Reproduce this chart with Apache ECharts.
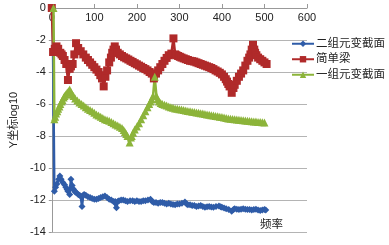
<!DOCTYPE html>
<html>
<head>
<meta charset="utf-8">
<script src="https://cdn.jsdelivr.net/npm/echarts@6/dist/echarts.min.js"></script>
<style>
  html, body { margin: 0; padding: 0; background: #fff; }
  #chart { width: 389px; height: 245px; }
</style>
</head>
<body>
<div id="chart"></div>
<script>
// 二组元变截面
var blueX = [2, 6, 9, 12, 16, 19, 22, 26, 30, 33, 36, 38, 42, 45, 48, 50, 53, 55, 58, 62, 65, 68, 71, 74, 76, 80, 85, 90, 95, 100, 105, 110, 115, 120, 125, 130, 135, 140, 145, 149, 152, 155, 158, 163, 168, 173, 178, 184, 190, 195, 200, 205, 210, 215, 220, 226, 232, 236, 240, 245, 250, 255, 260, 265, 270, 275, 280, 285, 290, 295, 300, 306, 313, 317, 320, 325, 330, 335, 340, 345, 350, 355, 360, 365, 370, 375, 380, 386, 393, 397, 400, 405, 410, 416, 423, 427, 430, 435, 440, 445, 450, 455, 460, 465, 470, 475, 480, 485, 490, 495, 500, 503];
var blueY = [0, -11.45, -11.2, -11.0, -10.7, -10.5, -10.7, -10.9, -11.05, -11.2, -11.35, -11.45, -11.65, -10.7, -11.1, -11.3, -11.4, -11.5, -11.55, -11.65, -11.7, -11.75, -12.4, -11.7, -11.65, -11.7, -11.8, -11.85, -11.9, -11.95, -11.95, -11.9, -11.85, -11.8, -11.75, -11.85, -11.95, -12.0, -12.1, -12.1, -12.48, -12.1, -12.05, -12.0, -12.0, -12.05, -12.1, -12.05, -12.05, -12.1, -12.05, -12.1, -12.1, -12.05, -12.05, -12.0, -11.95, -12.1, -12.15, -12.15, -12.2, -12.15, -12.15, -12.2, -12.25, -12.2, -12.25, -12.28, -12.3, -12.25, -12.25, -12.2, -12.13, -12.25, -12.3, -12.3, -12.35, -12.35, -12.4, -12.38, -12.35, -12.4, -12.45, -12.42, -12.4, -12.43, -12.45, -12.4, -12.38, -12.42, -12.45, -12.5, -12.55, -12.6, -12.7, -12.6, -12.55, -12.58, -12.6, -12.58, -12.55, -12.58, -12.6, -12.6, -12.62, -12.6, -12.58, -12.62, -12.65, -12.63, -12.6, -12.62];

// 简单梁
var redX = [0, 3, 7, 11, 15, 20, 23, 26, 30, 34, 38, 42, 45, 49, 53, 57, 62, 68, 74, 80, 85, 90, 95, 100, 105, 110, 114, 118, 122, 126, 130, 135, 139, 142, 145, 148, 151, 155, 160, 165, 170, 175, 180, 185, 190, 195, 200, 205, 210, 215, 220, 225, 230, 235, 240, 245, 250, 255, 260, 265, 270, 275, 281, 286, 290, 293, 297, 301, 305, 310, 315, 320, 325, 330, 335, 340, 345, 350, 355, 360, 365, 370, 375, 380, 385, 390, 395, 400, 405, 409, 412, 415, 418, 423, 427, 430, 435, 440, 445, 450, 455, 460, 464, 467, 470, 473, 476, 478, 481, 485, 490, 495, 500, 505];
var redY = [0, -2.75, -2.55, -2.4, -2.55, -2.8, -2.9, -3.0, -3.25, -3.5, -4.5, -3.8, -3.65, -3.5, -2.9, -2.2, -2.5, -2.7, -2.9, -3.1, -3.25, -3.4, -3.55, -3.7, -3.85, -4.0, -4.2, -4.4, -4.9, -4.3, -3.9, -3.4, -3.1, -2.8, -2.6, -2.4, -2.6, -2.8, -2.9, -3.0, -3.08, -3.15, -3.22, -3.3, -3.37, -3.45, -3.52, -3.6, -3.67, -3.75, -3.82, -3.9, -4.0, -4.1, -4.4, -4.1, -3.9, -3.7, -3.5, -3.3, -3.12, -2.95, -2.85, -1.9, -2.9, -2.95, -3.0, -3.05, -3.1, -3.15, -3.2, -3.25, -3.3, -3.32, -3.35, -3.4, -3.45, -3.5, -3.55, -3.6, -3.65, -3.7, -3.75, -3.82, -3.9, -3.97, -4.05, -4.15, -4.3, -4.45, -4.6, -4.75, -4.9, -5.3, -5.0, -4.8, -4.55, -4.3, -4.1, -3.9, -3.6, -3.3, -3.1, -2.9, -2.6, -2.3, -2.6, -2.8, -2.95, -3.1, -3.2, -3.3, -3.4, -3.5];

// 一组元变截面
var greenX = [4, 6, 8, 10, 13, 15, 18, 20, 23, 25, 28, 30, 33, 36, 39, 42, 45, 48, 51, 55, 60, 65, 70, 75, 80, 85, 90, 95, 100, 105, 110, 115, 120, 125, 130, 135, 140, 145, 150, 155, 160, 165, 169, 172, 175, 178, 183, 186, 188, 191, 195, 200, 205, 210, 215, 220, 225, 229, 232, 235, 238, 242, 246, 249, 252, 256, 260, 265, 270, 275, 280, 285, 290, 295, 300, 305, 310, 315, 320, 325, 330, 335, 340, 345, 350, 355, 360, 365, 370, 375, 380, 385, 390, 395, 400, 405, 410, 415, 420, 425, 430, 435, 440, 445, 450, 455, 460, 465, 470, 475, 480, 485, 490, 495, 500];
var greenY = [0, -6.95, -6.8, -6.6, -6.45, -6.3, -6.15, -6.0, -5.85, -5.75, -5.6, -5.5, -5.4, -5.3, -5.2, -5.1, -5.25, -5.4, -5.5, -5.65, -5.78, -5.9, -6.0, -6.1, -6.2, -6.3, -6.38, -6.45, -6.55, -6.65, -6.72, -6.8, -6.88, -6.95, -7.0, -7.05, -7.12, -7.2, -7.28, -7.35, -7.42, -7.5, -7.62, -7.75, -7.88, -8.0, -8.4, -8.1, -8.0, -7.8, -7.6, -7.4, -7.2, -6.95, -6.7, -6.45, -6.2, -6.0, -5.85, -5.7, -5.5, -4.3, -5.5, -5.7, -5.85, -5.93, -6.0, -6.05, -6.1, -6.15, -6.2, -6.24, -6.28, -6.3, -6.33, -6.35, -6.38, -6.4, -6.43, -6.45, -6.48, -6.5, -6.53, -6.55, -6.58, -6.6, -6.62, -6.65, -6.67, -6.7, -6.72, -6.75, -6.77, -6.8, -6.82, -6.85, -6.87, -6.9, -6.92, -6.93, -6.95, -6.97, -6.98, -7.0, -7.02, -7.03, -7.05, -7.07, -7.08, -7.1, -7.1, -7.12, -7.13, -7.14, -7.15];

var seriesNames = ['二组元变截面', '简单梁', '一组元变截面'];
var xTicks = { min: 0, max: 600, step: 100 };
var yTicks = { min: -14, max: 0, step: 2 };

function pairs(xs, ys) {
    var out = [];
    for (var i = 0; i < xs.length; i++) out.push([xs[i], ys[i]]);
    return out;
}

var font = 'Liberation Sans, Arial, Noto Sans CJK SC, sans-serif';
var chart = echarts.init(document.getElementById('chart'));
var option = {
    animation: false,
    color: ['#2f5ca8', '#b02a2a', '#8cb43a'],
    textStyle: { fontFamily: font },
    grid: { left: 43.5, right: 82, top: 8, bottom: 13 },
    legend: {
        data: seriesNames,
        orient: 'vertical',
        left: 286,
        top: 33,
        itemWidth: 22,
        itemHeight: 8,
        itemGap: 4,
        textStyle: { fontSize: 11.5, color: '#222', fontFamily: font, padding: [0, 0, 0, -3] }
    },
    xAxis: {
        type: 'value',
        position: 'top',
        min: xTicks.min,
        max: xTicks.max,
        interval: xTicks.step,
        axisLine: { show: true, lineStyle: { color: '#999', width: 1 } },
        axisTick: { show: true, length: 4, lineStyle: { color: '#999' } },
        axisLabel: { inside: true, margin: 4, fontSize: 11, color: '#222' },
        splitLine: { show: false }
    },
    yAxis: {
        type: 'value',
        min: yTicks.min,
        max: yTicks.max,
        interval: yTicks.step,
        name: 'Y坐标log10',
        nameLocation: 'middle',
        nameGap: 31,
        nameTextStyle: { fontSize: 11, color: '#222', fontFamily: font },
        axisLine: { show: true, lineStyle: { color: '#999', width: 1 } },
        axisTick: { show: true, length: 3, lineStyle: { color: '#999' } },
        axisLabel: { fontSize: 11, color: '#222', margin: 6 },
        splitLine: { show: true, lineStyle: { color: '#b4b4b4', width: 1 } }
    },
    graphic: [{
        type: 'text',
        left: 260,
        top: 219,
        style: { text: '频率', fontSize: 11.5, fill: '#222', fontFamily: font }
    }],
    series: [
        {
            name: seriesNames[0],
            type: 'line',
            data: pairs(blueX, blueY),
            symbol: 'diamond',
            symbolSize: 7,
            lineStyle: { width: 2.5 }
        },
        {
            name: seriesNames[1],
            type: 'line',
            data: pairs(redX, redY),
            symbol: 'rect',
            symbolSize: 8,
            lineStyle: { width: 2.5 }
        },
        {
            name: seriesNames[2],
            type: 'line',
            data: pairs(greenX, greenY),
            symbol: 'triangle',
            symbolSize: 8,
            lineStyle: { width: 2.5 }
        }
    ]
};
chart.setOption(option);
</script>
</body>
</html>
